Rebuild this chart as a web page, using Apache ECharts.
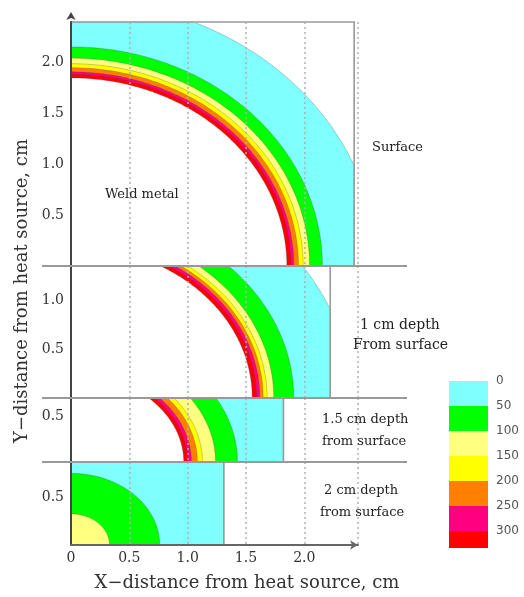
<!DOCTYPE html>
<html>
<head>
<meta charset="utf-8">
<script src="https://cdn.jsdelivr.net/npm/echarts@6/dist/echarts.min.js"></script>
<style>html,body{margin:0;padding:0;background:#fff}#c{width:524px;height:597px}</style>
</head>
<body>
<div id="c"></div>
<script>
// Temperature levels of the bands (legend) and their colours
const levels = [0, 50, 100, 150, 200, 250, 300];
const legendMax = 334;
const bandColors = ['#80ffff', '#00ff00', '#ffff80', '#ffff00', '#ff8000', '#ff0080', '#ff0000'];

// Outer radius (cm) of each band, starting with the 0-50 band, per section
const surfaceBands = [2.62, 2.155, 2.045, 1.99, 1.95, 1.91, 1.885];
const depth1Bands  = [2.40, 1.909, 1.738, 1.681, 1.647, 1.618, 1.590];
const depth15Bands = [3.0, 1.427, 1.239, 1.126, 1.083, 1.032, 1.000];
const depth2Bands  = [3.0, 0.76, 0.33];
// Radius of the weld-metal region (white) per section
const weldRadius = [1.85, 1.553, 0.966, 0];
// Extent of each section (cm)
const sectionWidth  = [2.427, 2.222, 1.821, 1.31];
const sectionHeight = [2.4, 1.35, 0.7, 0.88];
const sectionBands = [surfaceBands, depth1Bands, depth15Bands, depth2Bands];
const sectionLabels = [['Surface'], ['1 cm depth', 'From surface'], ['1.5 cm depth', 'from surface'], ['2 cm depth', 'from surface']];
const xTickStep = 0.5;
const xMax = 2.46;

const SERIF = 'DejaVu Serif';
const gridTops = [22, 266, 398, 462];
const gridHeights = [244, 132, 64, 83];
const gridLeft = 71, gridWidth = 287;

const isStep = v => Math.abs(v / xTickStep - Math.round(v / xTickStep)) < 1e-6;

const grids = [], xAxes = [], yAxes = [], series = [];
for (let g = 0; g < 4; g++) {
  grids.push({left: gridLeft, top: gridTops[g], width: gridWidth, height: gridHeights[g], containLabel: false});
  const last = g === 3;
  xAxes.push({
    type: 'value', gridIndex: g, min: 0, max: xMax, interval: xTickStep, z: 3,
    axisLine: {show: last, lineStyle: {color: '#666', width: 2}, symbol: ['none', 'arrow'], symbolSize: [7, 8]},
    axisTick: {show: false},
    axisLabel: {show: last, margin: 6, color: '#333', fontFamily: SERIF, fontSize: 14,
      formatter: v => v === 0 ? '0' : (isStep(v) ? v.toFixed(1) : '')},
    splitLine: {show: true, lineStyle: {type: [2, 3], color: '#b0b0b0', width: 1.5}}
  });
  yAxes.push({
    type: 'value', gridIndex: g, min: 0, max: sectionHeight[g], interval: xTickStep, z: 3,
    axisLine: {show: true, lineStyle: {color: '#444', width: 2},
      symbol: g === 0 ? ['none', 'arrow'] : 'none', symbolSize: [7, 8], symbolOffset: [0, 10]},
    axisTick: {show: false},
    axisLabel: {margin: 7, color: '#333', fontFamily: SERIF, fontSize: 14,
      formatter: v => (v > 0 && isStep(v)) ? v.toFixed(1) : ''},
    splitLine: {show: false}
  });
  const bands = sectionBands[g];
  const items = bands.map((r, i) => ({value: [r], c: bandColors[i]}));
  if (weldRadius[g] > 0) items.push({value: [weldRadius[g]], c: '#ffffff'});
  const colors = items.map(d => d.c);
  const xm = sectionWidth[g], ym = sectionHeight[g];
  series.push({
    type: 'custom', xAxisIndex: g, yAxisIndex: g, z: 1, silent: true,
    data: items.map(d => d.value),
    renderItem(params, api) {
      const r = api.value(0);
      const pts = [api.coord([0, 0])];
      const N = 120;
      for (let k = 0; k <= N; k++) {
        const t = k / N * Math.PI / 2;
        pts.push(api.coord([Math.min(r * Math.cos(t), xm), Math.min(r * Math.sin(t), ym)]));
      }
      return {type: 'polygon', shape: {points: pts},
        style: {fill: colors[params.dataIndex], stroke: 'rgba(70,70,70,0.4)', lineWidth: 0.7}};
    }
  });
  // section frame
  series.push({
    type: 'custom', xAxisIndex: g, yAxisIndex: g, z: 2, silent: true,
    data: [[xm, ym]],
    renderItem(params, api) {
      const a = api.coord([0, api.value(1)]), b = api.coord([api.value(0), api.value(1)]), c = api.coord([api.value(0), 0]);
      return {type: 'polyline', shape: {points: [a, b, c]}, style: {stroke: '#9a9a9a', lineWidth: 1.6, fill: null}};
    }
  });
}

// legend colour bar
grids.push({left: 449, top: 381, width: 39, height: 167});
xAxes.push({type: 'value', gridIndex: 4, min: 0, max: 1, show: false});
yAxes.push({type: 'value', gridIndex: 4, min: 0, max: legendMax, interval: 50, inverse: true, position: 'right',
  axisLine: {show: false}, axisTick: {show: false}, splitLine: {show: false},
  axisLabel: {margin: 8, color: '#555', fontFamily: 'DejaVu Sans', fontSize: 12,
    formatter: v => levels.indexOf(v) >= 0 ? String(v) : ''}});
series.push({
  type: 'custom', xAxisIndex: 4, yAxisIndex: 4, silent: true,
  data: levels.map((lv, i) => [lv, i < levels.length - 1 ? levels[i + 1] : legendMax]),
  renderItem(params, api) {
    const p0 = api.coord([0, api.value(0)]), p1 = api.coord([1, api.value(1)]);
    return {type: 'rect', shape: {x: p0[0], y: p0[1], width: p1[0] - p0[0], height: p1[1] - p0[1]},
      style: {fill: bandColors[params.dataIndex]}};
  }
});

const graphics = [];
// section separators
[266, 398, 462].forEach(y => graphics.push({type: 'line', shape: {x1: 42, y1: y, x2: 407, y2: y},
  style: {stroke: '#999', lineWidth: 2}, z: 10}));
const txt = (text, x, y, size, extra) => Object.assign({type: 'text', x, y, z: 20,
  style: {text, fontFamily: SERIF, fontSize: size, fill: '#222', textVerticalAlign: 'middle'}}, extra || {});
graphics.push(txt('Weld metal', 105, 195, 13));
graphics.push(txt(sectionLabels[0][0], 372, 148, 13));
graphics.push(txt(sectionLabels[1][0], 360, 325, 14));
graphics.push(txt(sectionLabels[1][1], 353, 345, 14));
graphics.push(txt(sectionLabels[2][0], 322, 420, 13));
graphics.push(txt(sectionLabels[2][1], 322, 442, 13));
graphics.push(txt(sectionLabels[3][0], 324, 491, 13));
graphics.push(txt(sectionLabels[3][1], 320, 513, 13));
graphics.push({type: 'text', x: 247, y: 583, z: 20,
  style: {text: 'X\u2212distance from heat source, cm', fontFamily: SERIF, fontSize: 18, fill: '#333',
    textAlign: 'center', textVerticalAlign: 'middle'}});
graphics.push({type: 'text', x: 22, y: 291, rotation: Math.PI / 2, z: 20,
  style: {text: 'Y\u2212distance from heat source, cm', fontFamily: SERIF, fontSize: 18, fill: '#333',
    textAlign: 'center', textVerticalAlign: 'middle'}});

const chart = echarts.init(document.getElementById('c'), null, {renderer: 'canvas'});
chart.setOption({
  animation: false,
  backgroundColor: '#fff',
  grid: grids, xAxis: xAxes, yAxis: yAxes, series: series, graphic: graphics
});
</script>
</body>
</html>
